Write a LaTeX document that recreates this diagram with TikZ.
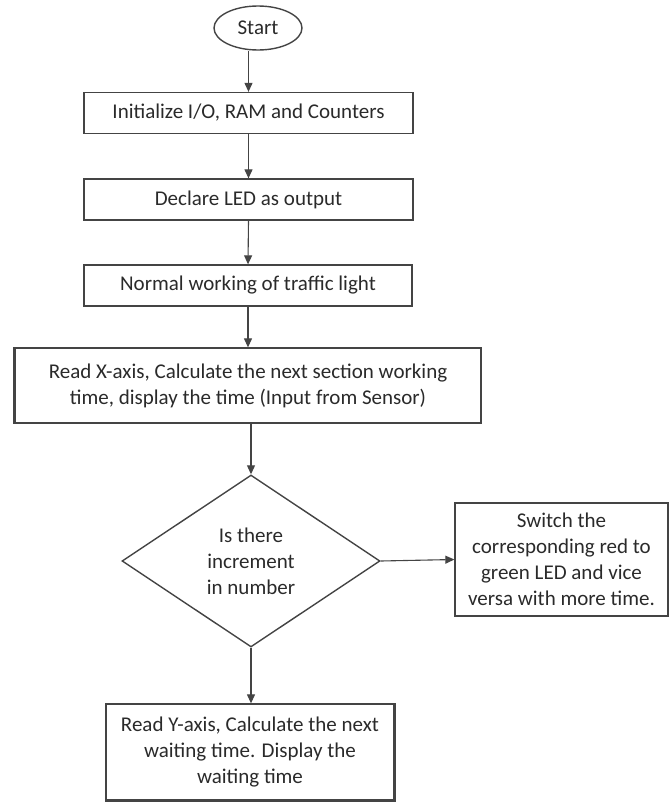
\documentclass[tikz,border=0pt]{standalone}
\usepackage{fontspec}
\setmainfont{Carlito}
\usetikzlibrary{shapes.geometric,arrows.meta}
\definecolor{ink}{HTML}{2A2A2A}
\definecolor{edge}{HTML}{444444}
\begin{document}
\begin{tikzpicture}[x=1pt,y=-1pt,
  every node/.style={text=ink,font=\fontsize{21}{26}\selectfont,align=center,inner sep=0pt},
  procbox/.style={draw=edge,line width=1.3pt,rectangle},
  decbox/.style={draw=edge,line width=1.4pt,diamond,aspect=1.5},
  termbox/.style={draw=edge,line width=1.4pt,ellipse},
  flow/.style={draw=edge,line width=1.1pt,-{Triangle[width=8pt,length=9pt]}}]
\useasboundingbox (0,0) rectangle (669,803);
\node[termbox,minimum width=88pt,minimum height=44pt] (start) at (258,28) {Start};
\node[procbox,minimum width=329pt,minimum height=41pt] (b1) at (248.5,113) {Initialize I/O, RAM and Counters};
\node[procbox,minimum width=329pt,minimum height=41pt] (b2) at (248.5,199.5) {Declare LED as output};
\node[procbox,minimum width=328pt,minimum height=41pt] (b3) at (248,285.5) {Normal working of traffic light};
\node[procbox,minimum width=466pt,minimum height=75pt] (b4) at (248,385.5) {Read X-axis, Calculate the next section working\\time, display the time (Input from Sensor)};
\node[decbox,minimum width=258pt,minimum height=172pt] (dia) at (251,561) {Is there\\increment\\in number};
\node[procbox,minimum width=213pt,minimum height=113pt] (sw) at (561.5,559.5) {Switch the\\corresponding red to\\green LED and vice\\versa with more time.};
\node[procbox,minimum width=288pt,minimum height=96pt] (b5) at (250,752) {Read Y-axis, Calculate the next\\waiting time. Display the\\waiting time};
\draw[draw=edge,line width=2.4pt] (b4.north west) -- (b4.south west);
\draw[draw=edge,line width=2.4pt] (b5.north east) -- (b5.south east) -- (b5.south west);
\path[flow] (start.south -| b1.north) -- (b1.north);
\path[flow] (b1.south) -- (b2.north);
\path[flow] (b2.south) -- (b3.north);
\path[flow] (b3.south) -- (b4.north);
\path[flow] (b4.south -| dia.north) -- (dia.north);
\path[flow] (dia.east) -- (sw.west);
\path[flow] (dia.south) -- (b5.north -| dia.south);
\end{tikzpicture}
\end{document}
